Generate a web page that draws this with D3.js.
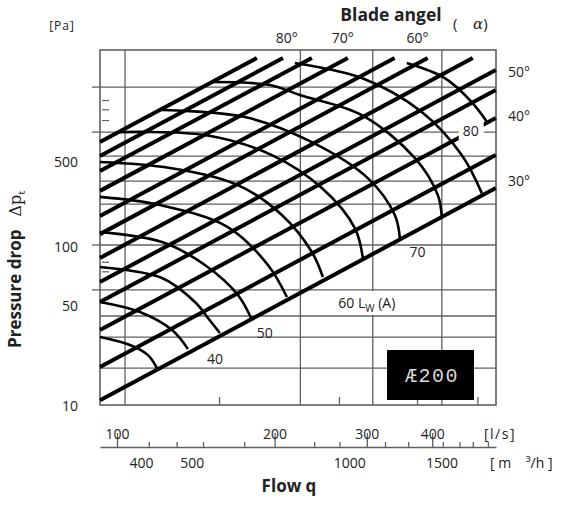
<!DOCTYPE html>
<html><head><meta charset="utf-8">
<script src="https://cdn.jsdelivr.net/npm/d3@7"></script>
<style>
body{margin:0;background:#fff}
svg{display:block}
text{font-family:"Open Sans","Noto Sans",sans-serif;fill:#222}
</style>
</head><body>
<svg id="c" width="569" height="508"></svg>
<script>
// ---------- data (flow in l/s, pressure in Pa) ----------
const flowDomain = [92.8, 529.5];
const pressureDomain = [10, 1656];

// blade-angle characteristic lines: start at left edge, end at top or right
const lineStartFlow = [92.8, 92.8, 92.8, 92.8, 92.8, 92.8, 92.8, 92.8, 92.8, 92.8, 92.8, 92.8];
const lineStartPressure = [440, 360, 290, 218, 152, 117, 83, 58.7, 44, 29.4, 17.3, 10.7];
const lineEndFlow = [185, 207.5, 235.6, 276, 339, 392, 478, 529, 529, 529, 529, 529];
const lineEndPressure = [1475, 1475, 1475, 1475, 1475, 1475, 1475, 1241, 930, 622, 365, 227];

// sound power level contours L_W(A) dB
const arcLevels = [35, 40, 45, 50, 55, 60, 65, 70, 75, 80, 85];
const arcFlow = [
  [92.8, 105.9, 114.6, 119.2],
  [92.8, 110.6, 127.4, 136.6],
  [92.8, 121.9, 140.9, 149.2, 157.2],
  [92.8, 121.9, 147.2, 170.2, 181.0],
  [92.8, 120.8, 162.8, 194.2, 211.1],
  [92.8, 126.2, 170.2, 206.5, 235.6, 247.3],
  [101.3, 147.2, 197.6, 246.2, 284.6, 294.8],
  [121.9, 175.5, 235.6, 301.3, 339.3, 346.9],
  [152.5, 195.9, 223.5, 293.5, 370.4, 410.0, 417.3],
  [218.6, 293.5, 382.0, 455.4, 497.4],
  [357.6, 422.7, 476.0, 510.6]
];
const arcPressure = [
  [26.6, 23.7, 20.5, 17.0],
  [44.0, 38.1, 29.4, 22.4],
  [72.9, 62.2, 44.0, 35.0, 28.2],
  [120.6, 104.4, 75.0, 48.7, 34.0],
  [200, 177.8, 129.6, 75.0, 47.3],
  [330, 302.8, 237, 154, 90.4, 63.1],
  [508, 487, 365, 227, 127.7, 83.0],
  [698, 631, 440, 262, 154, 110.6],
  [1044, 1000, 866, 649, 350, 205, 147.5],
  [1373, 1106, 678, 365, 211],
  [1373, 1106, 783, 579]
];

// contour labels
const arcLabelText = ["40", "50", "70", "80"];
const arcLabelFlow = [153.9, 191.6, 375, 473.8];
const arcLabelPressure = [19.4, 28.2, 90.4, 516];
const lwLabelFlow = 300, lwLabelPressure = 43.4;

// grid
const gridFlow = [103.6, 224, 308, 417.3];
const gridPressure = [971, 508, 360, 251, 180, 100, 52.4, 36, 26.6, 17];
const bottomInnerTicks = [157, 266, 375, 489];

// axes
const pressureTickLabels = [10, 50, 100, 500];
const pressureOuterTicks = [971, 508, 100, 52.4];
const pressureMinorTicks = [800, 700, 600, 78, 72, 68];
const lsMajorTicks = [100, 200, 300, 400];
const lsMinorTicks = [115, 130, 146, 175, 238, 266, 325, 360, 419, 451, 478, 511];
const m3hTicks = [400, 500, 1000, 1500];

// blade angle labels
const bladeTopLabels = ["80°", "70°", "60°"];
const bladeTopFlow = [211, 270, 375];
const bladeRightLabels = ["50°", "40°", "30°"];
const bladeRightPressure = [1205, 640, 251];

// ---------- drawing ----------
const svg = d3.select("#c");
const L = 100, R = 496, T = 50, B = 405;
const x = d3.scaleLog().domain(flowDomain).range([L, R]);
const y = d3.scaleLog().domain(pressureDomain).range([B, T]);
const gridCol = "#606060";

const g = svg.append("g");

// grid lines
g.selectAll(".gx").data(gridFlow).join("line")
  .attr("x1", d => x(d)).attr("x2", d => x(d)).attr("y1", T).attr("y2", B)
  .attr("stroke", gridCol).attr("stroke-width", 1.3);
g.selectAll(".gy").data(gridPressure).join("line")
  .attr("x1", L).attr("x2", R).attr("y1", d => y(d)).attr("y2", d => y(d))
  .attr("stroke", gridCol).attr("stroke-width", 1.3);

// frame
g.append("rect").attr("x", L).attr("y", T).attr("width", R - L).attr("height", B - T)
  .attr("fill", "none").attr("stroke", "#555").attr("stroke-width", 1.5);

// left outer ticks
g.selectAll(".lt").data(pressureOuterTicks).join("line")
  .attr("x1", L - 8).attr("x2", L).attr("y1", d => y(d)).attr("y2", d => y(d))
  .attr("stroke", gridCol).attr("stroke-width", 1.3);
// left inner minor ticks
g.selectAll(".lm").data(pressureMinorTicks).join("line")
  .attr("x1", L + 2).attr("x2", L + 9).attr("y1", d => y(d)).attr("y2", d => y(d))
  .attr("stroke", gridCol).attr("stroke-width", 1.2);
// bottom inner ticks
g.selectAll(".bt").data(bottomInnerTicks).join("line")
  .attr("x1", d => x(d)).attr("x2", d => x(d)).attr("y1", B - 8).attr("y2", B)
  .attr("stroke", gridCol).attr("stroke-width", 1.3);

// sound contours
const arcLine = d3.line().x(d => x(d[0])).y(d => y(d[1])).curve(d3.curveCatmullRom.alpha(0.5));
g.selectAll(".arc").data(arcLevels).join("path")
  .attr("d", (d, i) => arcLine(arcFlow[i].map((q, j) => [q, arcPressure[i][j]])))
  .attr("fill", "none").attr("stroke", "#000").attr("stroke-width", 2.6);

// blade lines
const straight = d3.line().x(d => x(d[0])).y(d => y(d[1]));
g.selectAll(".bl").data(lineStartPressure).join("path")
  .attr("d", (d, i) => straight([[lineStartFlow[i], d], [lineEndFlow[i], lineEndPressure[i]]]))
  .attr("fill", "none").attr("stroke", "#000").attr("stroke-width", 4);

// label boxes
const lwx = x(lwLabelFlow), lwy = y(lwLabelPressure);
g.append("rect").attr("x", lwx - 45).attr("y", lwy - 12).attr("width", 91).attr("height", 24).attr("fill", "#fff");
const t = g.append("text").attr("x", lwx).attr("y", lwy + 5).attr("text-anchor", "middle").style("font-size", "14px");
t.append("tspan").text("60 L");
t.append("tspan").attr("dy", 4).style("font-size", "10px").text("W");
t.append("tspan").attr("dy", -4).text(" (A)");

arcLabelText.forEach((s, i) => {
  const cx = x(arcLabelFlow[i]), cy = y(arcLabelPressure[i]);
  if (s === "80") g.append("rect").attr("x", cx - 12).attr("y", cy - 9).attr("width", 25).attr("height", 18).attr("fill", "#fff");
  g.append("text").attr("x", cx).attr("y", cy + 5).attr("text-anchor", "middle").style("font-size", "14px").text(s);
});

// model box
g.append("rect").attr("x", 387).attr("y", 350).attr("width", 87).attr("height", 50).attr("fill", "#000");
g.append("text").attr("x", 432).attr("y", 382).attr("text-anchor", "middle")
  .style("font-family", "'Liberation Mono',monospace").style("font-size", "20px").style("fill", "#d8d8d8")
  .style("letter-spacing", "1.5px").text("Æ200");

// y labels
const yLabelShift = {10: 1, 50: 13, 100: 2, 500: 29};
g.selectAll(".yl").data(pressureTickLabels).join("text")
  .attr("x", 78).attr("y", d => y(d) + 5 + yLabelShift[d]).attr("text-anchor", "end")
  .style("font-size", "14px").text(d => d);
g.append("text").attr("x", 62).attr("y", 30).attr("text-anchor", "middle").style("font-size", "12px")
  .style("letter-spacing", "1px").text("[Pa]");

// y title
const yt = g.append("text").attr("transform", "translate(21,348) rotate(-90)").attr("text-anchor", "start");
yt.append("tspan").style("font-weight", "bold").style("font-size", "17px").text("Pressure drop");
yt.append("tspan").attr("dx", 13).style("font-family", "'DejaVu Serif',serif").style("font-size", "16px").text("Δp");
yt.append("tspan").attr("dy", 4).style("font-family", "'DejaVu Serif',serif").style("font-size", "10px").text("t");

// l/s axis
const axG = svg.append("g").attr("transform", "translate(0,447)");
axG.call(d3.axisTop(x).tickValues(lsMajorTicks).tickSize(14).tickSizeOuter(0).tickPadding(-6).tickFormat(d3.format("d")));
axG.select(".domain").attr("stroke", gridCol).attr("stroke-width", 1.5);
axG.selectAll(".tick line").attr("stroke", gridCol).attr("stroke-width", 1.3);
axG.selectAll(".tick text").style("font-size", "14px").attr("fill", "#222").style("font-family", "'Open Sans',sans-serif");
const axMin = svg.append("g").attr("transform", "translate(0,447)");
axMin.call(d3.axisTop(x).tickValues(lsMinorTicks).tickSize(5).tickSizeOuter(0).tickFormat(""));
axMin.select(".domain").remove();
axMin.selectAll(".tick line").attr("stroke", gridCol).attr("stroke-width", 1.3);
svg.append("text").attr("x", 484).attr("y", 439).style("font-size", "14px").style("letter-spacing", "1.5px").text("[l/s]");

// m3/h axis
const xm = x.copy().domain(flowDomain.map(d => d * 3.6));
const axM = svg.append("g").attr("transform", "translate(0,455)");
axM.call(d3.axisBottom(xm).tickValues(m3hTicks).tickSize(0).tickFormat(d3.format("d")));
axM.select(".domain").remove();
axM.selectAll(".tick text").style("font-size", "14px").attr("fill", "#222").style("font-family", "'Open Sans',sans-serif");
svg.append("text").attr("x", 490).attr("y", 468).style("font-size", "14px").style("white-space", "pre").text("[ m    ³/h ]");
svg.append("text").attr("x", 289).attr("y", 492).attr("text-anchor", "middle")
  .style("font-size", "17px").style("font-weight", "bold").text("Flow q");

// blade angle title and labels
svg.append("text").attr("x", 391).attr("y", 21).attr("text-anchor", "middle")
  .style("font-size", "17.5px").style("font-weight", "bold").text("Blade angel");
const al = svg.append("text").attr("x", 453).attr("y", 29).style("font-size", "15px").style("white-space", "pre");
al.append("tspan").text("(    ");
al.append("tspan").style("font-family", "'DejaVu Serif',serif").style("font-style", "italic").text("α");
al.append("tspan").text(")");
svg.selectAll(".btl").data(bladeTopLabels).join("text")
  .attr("x", (d, i) => x(bladeTopFlow[i])).attr("y", 43).attr("text-anchor", "middle")
  .style("font-size", "14px").text(d => d);
svg.selectAll(".brl").data(bladeRightLabels).join("text")
  .attr("x", 508).attr("y", (d, i) => y(bladeRightPressure[i]) + 5)
  .style("font-size", "14px").text(d => d);
</script>
</body></html>
